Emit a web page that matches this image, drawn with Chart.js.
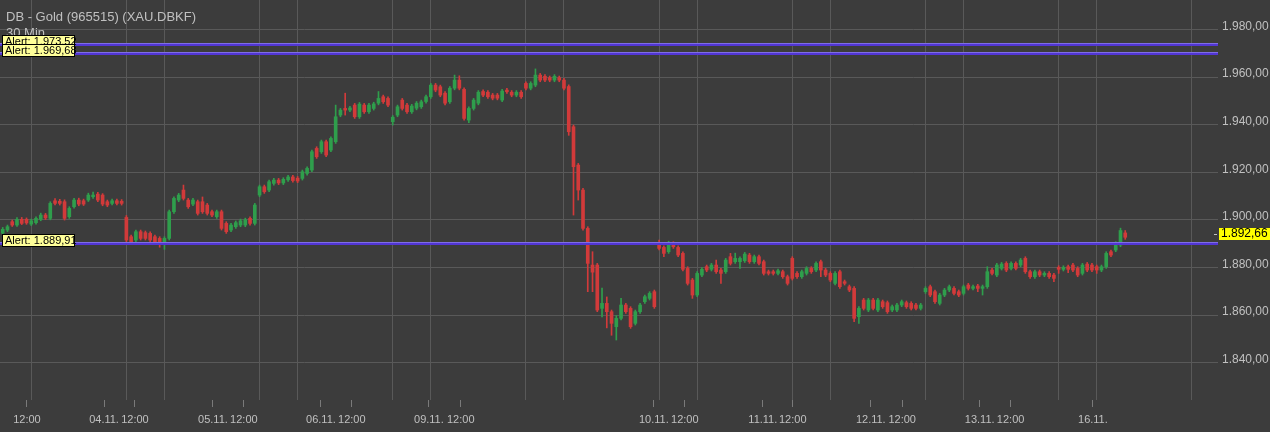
<!DOCTYPE html>
<html>
<head>
<meta charset="utf-8">
<script src="https://cdn.jsdelivr.net/npm/chart.js@4"></script>
<style>
  html, body { margin: 0; padding: 0; background: #3c3c3c; }
  #wrap { width: 1270px; height: 432px; }
</style>
</head>
<body>
<div id="wrap"><canvas id="chart" width="1270" height="432"></canvas></div>
<script>
// Kerzen 30 Min, Index 0 = erste Kerze links
const opens = [
  1894.4, 1895.7, 1899.2, 1897.8, 1900.2, 1900.2, 1898.2, 1898.8, 1900.2, 1902.0,
  1900.6, 1908.0, 1907.8, 1907.6, 1901.3, 1905.5, 1908.3, 1908.0, 1908.3, 1909.7,
  1910.8, 1910.4, 1907.6, 1906.9, 1908.0, 1907.8, 1901.0, 1892.9, 1891.5, 1895.0,
  1894.6, 1894.3, 1892.9, 1892.2, 1890.1, 1892.2, 1903.4, 1908.3, 1912.5, 1908.3,
  1906.6, 1907.6, 1907.6, 1906.2, 1903.4, 1901.3, 1903.4, 1898.5, 1895.7, 1897.1,
  1897.8, 1897.8, 1900.6, 1898.5, 1910.4, 1913.9, 1912.5, 1915.3, 1916.7, 1915.5,
  1916.8, 1918.0, 1917.5, 1917.4, 1919.5, 1920.9, 1930.0, 1928.6, 1932.8, 1929.3,
  1932.8, 1944.0, 1946.8, 1946.1, 1948.2, 1943.3, 1948.2, 1945.4, 1946.8, 1949.0,
  1951.7, 1951.0, 1941.2, 1944.0, 1950.3, 1948.2, 1945.4, 1946.9, 1947.5, 1949.7,
  1951.7, 1956.6, 1955.9, 1953.2, 1949.6, 1955.3, 1958.7, 1954.8, 1941.9, 1946.8,
  1949.0, 1953.9, 1953.6, 1952.4, 1952.4, 1950.3, 1954.5, 1953.6, 1952.4, 1953.6,
  1957.3, 1955.3, 1956.6, 1960.8, 1960.3, 1959.7, 1958.7, 1959.7, 1958.7, 1956.0,
  1939.1, 1923.0, 1912.5, 1896.4, 1881.0, 1881.0, 1862.8, 1864.9, 1861.4, 1855.1,
  1858.6, 1864.2, 1862.8, 1856.5, 1861.4, 1865.6, 1867.0, 1869.8, 1889.8, 1888.4,
  1886.6, 1890.1, 1888.4, 1885.9, 1879.6, 1874.7, 1868.4, 1876.8, 1880.3, 1879.2,
  1881.0, 1878.9, 1878.2, 1884.5, 1882.4, 1882.4, 1882.8, 1885.2, 1882.4, 1884.5,
  1882.4, 1878.2, 1878.2, 1877.5, 1878.2, 1876.1, 1883.8, 1877.5, 1876.1, 1877.5,
  1879.6, 1878.9, 1882.4, 1878.9, 1877.5, 1873.3, 1878.2, 1874.0, 1871.9, 1871.2,
  1859.3, 1866.3, 1862.1, 1866.3, 1862.1, 1865.6, 1865.2, 1862.1, 1862.1, 1864.2,
  1865.2, 1864.9, 1864.2, 1862.8, 1869.8, 1871.9, 1869.8, 1864.9, 1868.4, 1870.5,
  1871.2, 1869.8, 1869.1, 1872.6, 1871.2, 1872.2, 1871.2, 1871.9, 1878.9, 1876.8,
  1879.6, 1881.7, 1879.6, 1881.7, 1881.0, 1883.8, 1878.2, 1876.1, 1878.2, 1876.8,
  1877.5, 1876.8, 1880.0, 1879.2, 1880.3, 1881.0, 1879.6, 1877.5, 1881.4, 1881.0,
  1880.3, 1878.9, 1880.3, 1886.6, 1887.3, 1889.4, 1894.5
];
const highs = [
  1896.8, 1897.8, 1899.9, 1900.9, 1901.0, 1900.8, 1900.3, 1901.3, 1902.8, 1902.7,
  1907.6, 1908.9, 1908.6, 1908.4, 1905.5, 1909.0, 1909.1, 1908.7, 1911.2, 1911.6,
  1911.5, 1911.0, 1908.3, 1908.7, 1908.7, 1908.5, 1901.8, 1893.6, 1895.7, 1895.7,
  1895.3, 1895.0, 1893.6, 1892.9, 1892.9, 1904.1, 1909.7, 1911.1, 1914.6, 1909.0,
  1909.0, 1908.3, 1909.6, 1906.9, 1904.1, 1904.1, 1904.1, 1899.2, 1898.5, 1899.5,
  1900.3, 1900.7, 1901.3, 1906.9, 1914.6, 1914.6, 1916.7, 1917.4, 1917.4, 1917.7,
  1918.7, 1918.7, 1918.2, 1920.9, 1922.3, 1929.3, 1930.7, 1933.5, 1933.5, 1934.9,
  1948.2, 1946.8, 1953.2, 1947.7, 1948.9, 1949.3, 1948.9, 1948.9, 1949.4, 1953.9,
  1952.4, 1951.7, 1943.8, 1948.2, 1951.0, 1948.9, 1948.5, 1949.7, 1950.3, 1952.4,
  1957.3, 1957.3, 1956.6, 1953.9, 1956.0, 1960.8, 1960.5, 1955.5, 1947.5, 1951.0,
  1954.3, 1954.6, 1954.3, 1953.1, 1953.1, 1954.8, 1955.2, 1954.3, 1954.3, 1954.3,
  1958.0, 1958.0, 1963.4, 1961.5, 1961.0, 1960.4, 1961.0, 1960.4, 1959.4, 1956.7,
  1939.8, 1923.7, 1913.2, 1897.1, 1886.6, 1881.7, 1871.3, 1867.6, 1862.1, 1859.8,
  1867.0, 1864.9, 1863.5, 1862.1, 1864.9, 1868.4, 1869.8, 1870.5, 1891.5, 1889.1,
  1891.0, 1890.8, 1889.1, 1886.6, 1880.3, 1875.4, 1878.2, 1879.9, 1881.0, 1881.7,
  1883.1, 1879.6, 1883.8, 1885.9, 1886.0, 1884.5, 1886.3, 1885.9, 1885.2, 1885.2,
  1883.1, 1878.9, 1878.9, 1879.3, 1878.9, 1876.8, 1884.5, 1878.2, 1878.9, 1880.3,
  1880.3, 1882.4, 1883.1, 1879.6, 1878.2, 1878.2, 1878.9, 1874.7, 1872.6, 1871.9,
  1863.5, 1867.0, 1867.0, 1867.0, 1867.0, 1866.3, 1865.9, 1864.2, 1864.9, 1866.3,
  1865.9, 1865.6, 1864.9, 1864.9, 1871.9, 1872.6, 1870.5, 1869.1, 1871.2, 1872.6,
  1871.9, 1870.5, 1872.6, 1873.3, 1872.6, 1872.9, 1872.6, 1880.3, 1879.6, 1881.7,
  1882.1, 1882.4, 1882.4, 1882.4, 1883.8, 1884.5, 1878.9, 1878.9, 1878.9, 1878.2,
  1878.2, 1877.5, 1880.7, 1880.7, 1881.0, 1881.7, 1880.3, 1881.7, 1882.1, 1881.7,
  1881.0, 1881.0, 1886.6, 1887.3, 1890.8, 1896.5, 1895.5
];
const lows = [
  1893.6, 1895.0, 1897.2, 1897.2, 1898.0, 1898.1, 1897.6, 1898.2, 1899.6, 1900.1,
  1900.0, 1906.3, 1906.2, 1899.9, 1900.6, 1904.9, 1905.9, 1906.0, 1907.7, 1909.0,
  1907.6, 1905.9, 1905.5, 1906.3, 1906.3, 1906.2, 1890.8, 1890.1, 1889.9, 1891.5,
  1891.5, 1890.8, 1890.1, 1888.5, 1887.6, 1891.5, 1902.7, 1907.6, 1908.3, 1904.8,
  1905.9, 1902.0, 1902.7, 1902.0, 1901.3, 1900.6, 1895.7, 1894.3, 1895.0, 1896.4,
  1897.1, 1897.1, 1897.8, 1897.8, 1909.7, 1911.1, 1911.8, 1914.6, 1914.8, 1914.8,
  1916.1, 1915.8, 1915.6, 1916.7, 1918.8, 1920.2, 1925.8, 1927.9, 1926.5, 1928.6,
  1932.1, 1943.3, 1944.0, 1945.4, 1942.6, 1942.6, 1944.7, 1944.7, 1946.1, 1948.3,
  1948.9, 1947.5, 1939.8, 1943.3, 1946.1, 1944.7, 1944.7, 1946.2, 1946.8, 1949.0,
  1951.0, 1953.8, 1951.7, 1948.3, 1948.9, 1954.6, 1954.6, 1941.9, 1940.8, 1946.1,
  1948.3, 1951.7, 1951.0, 1950.4, 1950.4, 1949.6, 1953.1, 1951.7, 1951.7, 1951.0,
  1954.6, 1954.6, 1955.9, 1958.0, 1958.0, 1958.0, 1958.0, 1958.0, 1954.6, 1935.5,
  1902.0, 1908.3, 1895.7, 1869.8, 1869.8, 1861.4, 1859.2, 1854.6, 1851.5, 1849.5,
  1857.9, 1860.7, 1854.4, 1855.8, 1860.7, 1864.9, 1866.3, 1862.8, 1887.3, 1884.5,
  1885.9, 1888.0, 1884.5, 1878.5, 1872.6, 1867.0, 1867.7, 1876.1, 1878.2, 1878.5,
  1877.5, 1873.3, 1877.5, 1881.0, 1881.7, 1879.6, 1882.1, 1881.7, 1881.7, 1881.0,
  1876.8, 1876.8, 1876.8, 1876.8, 1875.4, 1872.6, 1874.7, 1875.4, 1875.4, 1876.8,
  1877.5, 1878.2, 1876.1, 1876.1, 1874.0, 1872.6, 1871.2, 1872.6, 1869.8, 1857.2,
  1856.5, 1862.1, 1861.4, 1862.1, 1861.4, 1862.8, 1860.7, 1861.4, 1861.4, 1863.5,
  1862.8, 1862.1, 1862.1, 1862.1, 1869.1, 1867.7, 1864.9, 1864.2, 1867.7, 1869.8,
  1868.4, 1867.7, 1868.4, 1870.5, 1870.5, 1869.8, 1868.4, 1871.2, 1876.8, 1876.1,
  1878.9, 1878.2, 1878.9, 1878.9, 1880.3, 1877.5, 1875.4, 1875.4, 1876.1, 1876.1,
  1875.4, 1874.0, 1877.5, 1878.5, 1877.8, 1878.2, 1876.1, 1876.8, 1878.2, 1878.2,
  1877.5, 1878.2, 1879.6, 1884.5, 1886.6, 1888.7, 1891.8
];
const closes = [
  1896.0, 1897.1, 1897.8, 1900.2, 1898.5, 1898.7, 1899.6, 1900.6, 1902.0, 1900.8,
  1906.9, 1906.9, 1906.9, 1900.6, 1904.8, 1908.3, 1906.6, 1906.6, 1910.4, 1910.4,
  1908.3, 1906.6, 1906.2, 1908.0, 1906.9, 1906.9, 1891.5, 1890.8, 1895.0, 1892.2,
  1892.2, 1891.5, 1890.8, 1890.1, 1892.2, 1903.4, 1909.0, 1910.4, 1909.0, 1905.5,
  1908.3, 1902.7, 1903.4, 1902.7, 1902.0, 1903.4, 1896.4, 1895.0, 1897.8, 1898.8,
  1899.6, 1900.0, 1898.5, 1906.2, 1913.9, 1911.8, 1916.0, 1916.7, 1915.5, 1917.0,
  1918.0, 1916.5, 1916.3, 1920.2, 1921.6, 1928.6, 1926.5, 1932.8, 1927.2, 1934.2,
  1943.3, 1946.1, 1946.1, 1947.0, 1943.3, 1948.6, 1945.4, 1948.2, 1948.7, 1951.0,
  1949.6, 1948.2, 1943.1, 1947.5, 1946.8, 1945.4, 1947.8, 1949.0, 1949.6, 1951.7,
  1956.6, 1954.5, 1952.4, 1949.0, 1955.3, 1958.7, 1955.3, 1942.6, 1946.8, 1950.3,
  1953.6, 1952.4, 1951.7, 1951.1, 1951.1, 1954.1, 1953.8, 1952.4, 1953.6, 1951.7,
  1955.3, 1957.3, 1960.8, 1958.7, 1958.7, 1958.7, 1960.3, 1958.7, 1955.3, 1937.0,
  1922.3, 1912.5, 1896.4, 1881.7, 1878.0, 1862.1, 1864.9, 1861.4, 1856.5, 1858.6,
  1864.2, 1861.4, 1855.1, 1861.4, 1864.2, 1867.7, 1869.1, 1863.5, 1888.0, 1885.9,
  1889.8, 1888.7, 1885.2, 1879.2, 1873.3, 1868.4, 1877.5, 1879.2, 1878.9, 1881.0,
  1878.2, 1877.5, 1883.1, 1881.7, 1883.8, 1883.8, 1885.6, 1882.4, 1884.5, 1881.7,
  1877.5, 1877.5, 1877.5, 1878.6, 1876.1, 1873.3, 1875.4, 1876.1, 1878.2, 1879.6,
  1878.2, 1881.7, 1878.9, 1876.8, 1874.7, 1877.5, 1871.9, 1873.3, 1870.5, 1858.6,
  1862.8, 1862.8, 1866.3, 1862.8, 1866.3, 1863.5, 1861.4, 1863.5, 1864.2, 1865.6,
  1863.5, 1862.8, 1862.8, 1864.2, 1871.2, 1868.4, 1865.6, 1868.4, 1870.5, 1871.9,
  1869.1, 1868.4, 1871.9, 1871.2, 1871.9, 1871.2, 1871.9, 1878.2, 1877.5, 1881.0,
  1881.4, 1878.9, 1881.7, 1879.6, 1883.1, 1878.2, 1876.1, 1878.2, 1876.8, 1877.5,
  1876.1, 1875.4, 1879.2, 1880.0, 1879.2, 1878.9, 1876.8, 1881.0, 1878.9, 1878.9,
  1878.9, 1880.3, 1885.9, 1885.2, 1890.1, 1895.5, 1892.66
];

// senkrechte Gitterlinien (Kerzenindex)
const gridIdx = [6, 26, 34, 54, 62, 82, 90, 110, 118, 138, 146, 166, 174, 194, 202, 222, 230, 250];
// Beschriftung unten (Position in Kerzen)
const xTickPos = [5.1, 21.3, 27.8, 44.2, 50.7, 66.9, 73.4, 89.6, 96.3, 136.9, 143.4, 159.8, 166.1, 182.5, 189.1, 205.4, 211.9, 229.2];
const xTickLabels = ["12:00", "04.11.", "12:00", "05.11.", "12:00", "06.11.", "12:00", "09.11.", "12:00",
  "10.11.", "12:00", "11.11.", "12:00", "12.11.", "12:00", "13.11.", "12:00", "16.11."];

const yTicks = [1840, 1860, 1880, 1900, 1920, 1940, 1960, 1980];
const alerts = [1973.52, 1969.68, 1889.91];
const lastPrice = 1892.66;
const titel = "DB - Gold (965515) (XAU.DBKF)";
const intervall = "30 Min";

const GRUEN = "#2f9e4c";
const ROT = "#d23a3a";
const GITTER = "#595959";
const TEXT = "#c0c0c0";
const FONT = "'Liberation Sans', Arial, sans-serif";

function fmt(v) {
    const s = v.toFixed(2).split(".");
    return s[0].replace(/\B(?=(\d{3})+(?!\d))/g, ".") + "," + s[1];
}

const farben = opens.map((o, i) => (closes[i] >= o ? GRUEN : ROT));
const dochte = opens.map((o, i) => ({ x: i, y: [lows[i], highs[i]] }));
const koerper = opens.map((o, i) => ({ x: i, y: [o, closes[i]] }));

// Alarme, Kurs-Box und Titel
const overlay = {
    id: "overlay",
    afterDatasetsDraw(chart) {
        const ctx = chart.ctx;
        const y = chart.scales.y;
        const area = chart.chartArea;
        ctx.save();

        ctx.font = "13px " + FONT;
        ctx.fillStyle = TEXT;
        ctx.textBaseline = "middle";
        ctx.fillText(titel, 6, 17);
        ctx.fillText(intervall, 6, 33);

        // Alarmlinien: heller Rand oben, kräftige Linie darunter
        alerts.forEach((a) => {
            const py = Math.round(y.getPixelForValue(a));
            ctx.fillStyle = "#7f6ee6";
            ctx.fillRect(area.left, py - 2, area.right - area.left, 1);
            ctx.fillStyle = "#5236d4";
            ctx.fillRect(area.left, py - 1, area.right - area.left, 2);
        });
        alerts.forEach((a) => {
            const py = Math.round(y.getPixelForValue(a));
            ctx.fillStyle = "#ffff99";
            ctx.fillRect(2, py - 10, 73, 13);
            ctx.strokeStyle = "#000";
            ctx.lineWidth = 1;
            ctx.strokeRect(2.5, py - 9.5, 72, 12);
            ctx.fillStyle = "#000";
            ctx.font = "11px " + FONT;
            ctx.textBaseline = "middle";
            ctx.fillText("Alert: " + fmt(a), 5, py - 3);
        });

        const lp = Math.round(y.getPixelForValue(lastPrice));
        ctx.fillStyle = "#ffff00";
        ctx.fillRect(area.right + 1, lp - 9, 52, 12);
        ctx.fillStyle = TEXT;
        ctx.fillRect(area.right - 4, lp - 3, 3, 1);
        ctx.fillStyle = "#000";
        ctx.font = "12px " + FONT;
        ctx.fillText(fmt(lastPrice), area.right + 3, lp - 3);
        ctx.restore();
    },
};

const xMin = -0.57;
const xMax = 255.5;

new Chart(document.getElementById("chart"), {
    type: "bar",
    data: {
        datasets: [
            { data: dochte, backgroundColor: farben, barThickness: 1, grouped: false, order: 2 },
            { data: koerper, backgroundColor: farben, barThickness: 3, grouped: false, minBarLength: 1, order: 1 },
        ],
    },
    options: {
        responsive: false,
        animation: false,
        devicePixelRatio: 1,
        layout: { padding: 0 },
        plugins: { legend: { display: false }, tooltip: { enabled: false } },
        scales: {
            x: {
                type: "linear",
                position: "top",
                min: xMin,
                max: xMax,
                offset: false,
                grid: { color: GITTER, drawTicks: false, offset: false },
                border: { display: false },
                ticks: { display: false },
                afterBuildTicks: (s) => { s.ticks = gridIdx.map((v) => ({ value: v })); },
                afterFit: (s) => { s.height = 0; s.paddingLeft = 0; s.paddingRight = 0; },
            },
            xLab: {
                type: "linear",
                position: "bottom",
                min: xMin,
                max: xMax,
                offset: false,
                grid: { drawOnChartArea: false, offset: false, color: "#7a7a7a", tickLength: 7 },
                border: { display: false },
                ticks: {
                    color: TEXT,
                    font: { family: FONT, size: 11 },
                    maxRotation: 0,
                    autoSkip: false,
                    padding: 6,
                    callback: (v, i) => xTickLabels[i],
                },
                afterBuildTicks: (s) => { s.ticks = xTickPos.map((v) => ({ value: v })); },
                afterFit: (s) => { s.height = 32; s.paddingLeft = 0; s.paddingRight = 0; },
            },
            y: {
                position: "right",
                min: 1824.3,
                max: 1992.35,
                grid: { color: GITTER, drawTicks: false },
                border: { display: false },
                ticks: {
                    color: TEXT,
                    padding: 4,
                    labelOffset: -3,
                    font: { family: FONT, size: 12 },
                    callback: (v) => fmt(v),
                },
                afterBuildTicks: (s) => { s.ticks = yTicks.map((v) => ({ value: v })); },
                afterFit: (s) => { s.width = 52; s.paddingTop = 0; s.paddingBottom = 0; },
            },
        },
    },
    plugins: [overlay],
});
</script>
</body>
</html>
